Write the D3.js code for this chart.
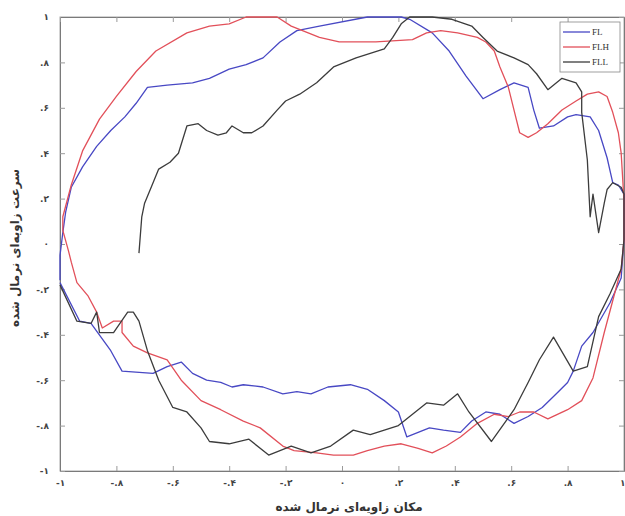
<!DOCTYPE html>
<html>
<head>
<meta charset="utf-8">
<script src="https://cdn.jsdelivr.net/npm/d3@7"></script>
<style>
  body { margin: 0; background: #fff; }
  svg { display: block; }
</style>
</head>
<body>
<svg id="chart" width="625" height="516"></svg>
<script>
// series, [normalized angle, normalized angular velocity]
const fl = [
  [-1.00,-0.16],[-1.00,-0.05],[-0.99,0.05],[-0.98,0.14],[-0.96,0.25],[-0.92,0.34],[-0.87,0.43],
  [-0.82,0.50],[-0.77,0.56],[-0.73,0.62],[-0.69,0.69],[-0.62,0.70],[-0.53,0.71],[-0.47,0.73],
  [-0.40,0.77],[-0.34,0.79],[-0.28,0.82],[-0.22,0.89],[-0.16,0.94],[-0.08,0.96],[0.09,1.00],
  [0.21,1.00],[0.24,0.99],[0.32,0.93],[0.38,0.85],[0.44,0.74],[0.50,0.64],[0.56,0.68],
  [0.61,0.71],[0.66,0.69],[0.68,0.59],[0.70,0.51],[0.75,0.52],[0.80,0.56],[0.83,0.57],
  [0.88,0.56],[0.91,0.50],[0.94,0.38],[0.96,0.27],[0.98,0.26],[1.00,0.22],[1.00,0.02],
  [0.99,-0.15],[0.95,-0.26],[0.89,-0.39],[0.85,-0.45],[0.82,-0.56],[0.80,-0.61],[0.76,-0.66],
  [0.71,-0.72],[0.66,-0.76],[0.61,-0.79],[0.56,-0.75],[0.51,-0.74],[0.46,-0.78],[0.42,-0.83],
  [0.36,-0.82],[0.31,-0.81],[0.27,-0.83],[0.23,-0.85],[0.20,-0.74],[0.15,-0.69],[0.09,-0.64],
  [0.03,-0.62],[-0.05,-0.63],[-0.11,-0.66],[-0.16,-0.65],[-0.21,-0.66],[-0.28,-0.63],
  [-0.35,-0.62],[-0.39,-0.63],[-0.43,-0.61],[-0.48,-0.60],[-0.53,-0.57],[-0.57,-0.52],
  [-0.62,-0.54],[-0.67,-0.57],[-0.78,-0.56],[-0.82,-0.47],[-0.89,-0.35],[-0.93,-0.34],[-1.00,-0.17]
];

const flh = [
  [-0.97,-0.03],[-0.99,0.06],[-0.99,0.12],[-0.96,0.26],[-0.92,0.41],[-0.86,0.55],[-0.80,0.65],
  [-0.73,0.76],[-0.66,0.85],[-0.55,0.93],[-0.47,0.96],[-0.40,0.97],[-0.34,1.00],[-0.28,1.00],
  [-0.23,1.00],[-0.18,0.96],[-0.12,0.93],[-0.08,0.91],[-0.01,0.89],[0.12,0.89],[0.25,0.90],
  [0.30,0.93],[0.35,0.94],[0.41,0.93],[0.48,0.91],[0.51,0.89],[0.54,0.85],[0.56,0.78],
  [0.59,0.69],[0.61,0.59],[0.63,0.49],[0.66,0.47],[0.69,0.49],[0.73,0.53],[0.78,0.59],
  [0.83,0.63],[0.87,0.66],[0.91,0.67],[0.94,0.65],[0.96,0.58],[0.98,0.49],[0.99,0.40],
  [1.00,0.19],[1.00,0.02],[0.99,-0.11],[0.96,-0.25],[0.93,-0.39],[0.89,-0.59],[0.85,-0.69],
  [0.80,-0.73],[0.73,-0.77],[0.68,-0.74],[0.63,-0.74],[0.59,-0.76],[0.54,-0.75],[0.48,-0.79],
  [0.42,-0.85],[0.37,-0.89],[0.32,-0.92],[0.27,-0.90],[0.21,-0.88],[0.15,-0.89],[0.09,-0.91],
  [0.04,-0.93],[-0.03,-0.93],[-0.09,-0.92],[-0.17,-0.91],[-0.21,-0.89],[-0.29,-0.81],
  [-0.35,-0.78],[-0.43,-0.73],[-0.50,-0.69],[-0.57,-0.60],[-0.62,-0.51],[-0.69,-0.48],
  [-0.74,-0.45],[-0.78,-0.39],[-0.78,-0.34],[-0.81,-0.34],[-0.85,-0.37],[-0.87,-0.30],
  [-0.90,-0.23],[-0.94,-0.17],[-0.96,-0.08],[-0.97,-0.03]
];

const fll = [
  [-0.72,-0.04],[-0.71,0.12],[-0.70,0.18],[-0.67,0.27],[-0.65,0.33],[-0.61,0.36],[-0.58,0.40],
  [-0.55,0.52],[-0.51,0.53],[-0.48,0.50],[-0.44,0.48],[-0.41,0.49],[-0.39,0.52],[-0.35,0.49],
  [-0.32,0.49],[-0.28,0.52],[-0.23,0.59],[-0.20,0.63],[-0.15,0.66],[-0.09,0.71],[-0.03,0.78],
  [0.05,0.82],[0.15,0.86],[0.18,0.91],[0.21,0.97],[0.24,1.00],[0.32,1.00],[0.39,0.99],
  [0.46,0.96],[0.50,0.91],[0.55,0.85],[0.61,0.82],[0.66,0.79],[0.69,0.75],[0.73,0.68],
  [0.78,0.73],[0.83,0.71],[0.85,0.67],[0.85,0.58],[0.87,0.37],[0.88,0.12],[0.89,0.22],
  [0.91,0.05],[0.93,0.18],[0.94,0.24],[0.96,0.27],[0.99,0.25],[1.00,0.22],[1.00,0.02],
  [0.99,-0.11],[0.95,-0.22],[0.91,-0.32],[0.87,-0.54],[0.82,-0.56],[0.75,-0.41],[0.70,-0.51],
  [0.66,-0.61],[0.61,-0.73],[0.53,-0.87],[0.45,-0.74],[0.41,-0.66],[0.36,-0.71],[0.30,-0.70],
  [0.20,-0.80],[0.10,-0.84],[0.04,-0.82],[-0.04,-0.89],[-0.11,-0.92],[-0.18,-0.89],
  [-0.26,-0.93],[-0.33,-0.86],[-0.40,-0.88],[-0.47,-0.87],[-0.50,-0.81],[-0.55,-0.74],
  [-0.60,-0.72],[-0.65,-0.60],[-0.69,-0.47],[-0.72,-0.34],[-0.74,-0.30],[-0.76,-0.30],
  [-0.81,-0.39],[-0.86,-0.39],[-0.87,-0.30],[-0.89,-0.35],[-0.94,-0.34],[-1.00,-0.18]
];

const seriesNames = ["FL", "FLH", "FLL"];
const tickValues = [-1, -0.8, -0.6, -0.4, -0.2, 0, 0.2, 0.4, 0.6, 0.8, 1];
const xTitle = "مکان زاویه‌ای نرمال شده";
const yTitle = "سرعت زاویه‌ای نرمال شده";

const colors = { FL: "#4848c4", FLH: "#e2505a", FLL: "#3c3c3c" };
const series = [
  { name: "FL", values: fl },
  { name: "FLH", values: flh },
  { name: "FLL", values: fll }
];

const width = 625, height = 516;
const margin = { top: 17, right: 1, bottom: 45, left: 60 };
const svg = d3.select("#chart");

const x = d3.scaleLinear().domain([-1, 1]).range([margin.left, width - margin.right]);
const y = d3.scaleLinear().domain([-1, 1]).range([height - margin.bottom, margin.top]);

// persian digits, matlab style ".8"
const faDigits = "۰۱۲۳۴۵۶۷۸۹";
function faTick(v) {
    let s;
    if (Math.abs(v) < 1e-9) s = "0";
    else if (Math.abs(Math.abs(v) - 1) < 1e-9) s = (v < 0 ? "-" : "") + "1";
    else s = (v < 0 ? "-" : "") + "." + Math.round(Math.abs(v) * 10);
    return s.replace(/[0-9]/g, c => faDigits[+c]);
}

const axisColor = "#7a7a7a";

// box
svg.append("rect")
    .attr("x", x(-1)).attr("y", y(1))
    .attr("width", x(1) - x(-1)).attr("height", y(-1) - y(1))
    .attr("fill", "none").attr("stroke", "#a8a8a8").attr("stroke-width", 1);

const xAxis = svg.append("g")
    .attr("transform", `translate(0,${y(-1)})`)
    .call(d3.axisBottom(x).tickValues(tickValues).tickSizeInner(-5).tickSizeOuter(0).tickPadding(9).tickFormat(faTick));
const yAxis = svg.append("g")
    .attr("transform", `translate(${x(-1)},0)`)
    .call(d3.axisLeft(y).tickValues(tickValues).tickSizeInner(-5).tickSizeOuter(0).tickPadding(9).tickFormat(faTick));
// mirrored ticks on top / right
svg.append("g")
    .attr("transform", `translate(0,${y(1)})`)
    .call(d3.axisTop(x).tickValues(tickValues).tickSizeInner(-5).tickSizeOuter(0).tickFormat(""));
svg.append("g")
    .attr("transform", `translate(${x(1)},0)`)
    .call(d3.axisRight(y).tickValues(tickValues).tickSizeInner(-5).tickSizeOuter(0).tickFormat(""));

svg.selectAll(".domain").attr("stroke", axisColor);
svg.selectAll(".tick line").attr("stroke", "#9a9a9a");
svg.selectAll(".tick text")
    .attr("fill", "#444")
    .style("font-family", "'DejaVu Sans', sans-serif")
    .style("font-size", "9px")
    .style("font-weight", "bold");
yAxis.selectAll(".tick text").attr("dx", -2);
// last x label sits on the window edge
xAxis.selectAll(".tick text").filter(d => d === 1).attr("text-anchor", "end").attr("dx", 1);

// curves
const line = d3.line().x(d => x(d[0])).y(d => y(d[1]));
svg.append("g").selectAll("path")
    .data(series)
    .join("path")
    .attr("d", d => line(d.values))
    .attr("fill", "none")
    .attr("stroke", d => colors[d.name])
    .attr("stroke-width", 1.3)
    .attr("stroke-linejoin", "round");

// axis titles
svg.append("text")
    .attr("x", 349).attr("y", 511)
    .attr("text-anchor", "middle")
    .attr("direction", "rtl")
    .style("font-family", "'DejaVu Sans', sans-serif")
    .style("font-size", "12px")
    .style("font-weight", "bold")
    .attr("fill", "#333")
    .text(xTitle);

svg.append("text")
    .attr("transform", "translate(19,248) rotate(-90)")
    .attr("text-anchor", "middle")
    .attr("direction", "rtl")
    .style("font-family", "'DejaVu Sans', sans-serif")
    .style("font-size", "12px")
    .style("font-weight", "bold")
    .attr("fill", "#333")
    .text(yTitle);

// legend
const legend = svg.append("g").attr("transform", "translate(560,22)");
legend.append("rect")
    .attr("width", 60).attr("height", 50)
    .attr("fill", "#fff").attr("stroke", "#888").attr("stroke-width", 0.8);
const items = legend.selectAll("g.item")
    .data(seriesNames)
    .join("g")
    .attr("class", "item")
    .attr("transform", (d, i) => `translate(0,${10 + i * 15})`);
items.append("line")
    .attr("x1", 3).attr("x2", 30)
    .attr("stroke", d => colors[d]).attr("stroke-width", 1.3);
items.append("text")
    .attr("x", 32).attr("dy", "0.35em")
    .style("font-family", "'Liberation Serif', serif")
    .style("font-size", "9px")
    .attr("fill", "#333")
    .text(d => d);
</script>
</body>
</html>
